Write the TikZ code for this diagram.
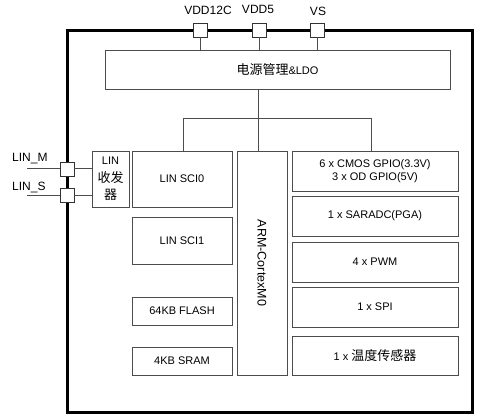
\documentclass[tikz,border=0pt]{standalone}
\usepackage{fontspec}
\setmainfont{Liberation Sans}
\newfontfamily\cjk{Noto Sans CJK SC}
\begin{document}
\begin{tikzpicture}[x=1pt,y=-1pt,
  box/.style={draw=black!70,line width=0.8pt,fill=white,rectangle,inner sep=0pt,align=center,
    font=\fontsize{11}{13}\selectfont},
  pin/.style={draw=black!80,line width=0.8pt,fill=white,rectangle,inner sep=0pt,minimum width=14pt,minimum height=14pt},
  lbl/.style={inner sep=0pt,font=\fontsize{12}{14}\selectfont},
  wire/.style={draw=black!70,line width=0.8pt}]
\useasboundingbox (0,0) rectangle (480,420);
% outer chip
\node[draw=black,line width=3pt,rectangle,minimum width=405pt,minimum height=381pt,inner sep=0pt] (chip) at (269.5,221.5) {};
% top pins
\node[pin] (p1) at (200,30) {};
\node[pin] (p2) at (259,30) {};
\node[pin] (p3) at (317,30) {};
\node[lbl] (l1) at (208,10) {VDD12C};
\node[lbl] (l2) at (258,9) {VDD5};
\node[lbl] (l3) at (318,11) {VS};
% power
\node[box,minimum width=345pt,minimum height=39pt] (pwr) at (277.5,69.5) {{\fontsize{13}{15}\cjk 电源管理}\&LDO};
\draw[wire] (p1.south) -- (p1.south |- pwr.north);
\draw[wire] (p2.south) -- (p2.south |- pwr.north);
\draw[wire] (p3.south) -- (p3.south |- pwr.north);
% blocks
\node[box,minimum width=37pt,minimum height=56pt,font=\fontsize{11}{17.5}\selectfont] (trx) at (110.5,179) {LIN\\{\fontsize{13}{17.5}\cjk 收发}\\{\fontsize{13}{17.5}\cjk 器}};
\node[box,minimum width=100pt,minimum height=56pt] (sci0) at (182,179) {LIN SCI0};
\node[box,minimum width=100pt,minimum height=47pt] (sci1) at (182,240.5) {LIN SCI1};
\node[box,minimum width=100pt,minimum height=28pt] (flash) at (182,311) {64KB FLASH};
\node[box,minimum width=100pt,minimum height=28pt] (sram) at (182,361) {4KB SRAM};
\node[box,minimum width=50pt,minimum height=224pt] (arm) at (262,263) {};
\node[lbl,rotate=-90,font=\fontsize{12.5}{14}\selectfont] (armt) at (arm.center) {ARM-CortexM0};
\node[box,minimum width=166pt,minimum height=40pt] (gpio) at (375,171) {6 x CMOS GPIO(3.3V)\\3 x OD GPIO(5V)};
\node[box,minimum width=166pt,minimum height=40pt] (adc) at (375,216) {1 x SARADC(PGA)};
\node[box,minimum width=166pt,minimum height=40pt] (pwm) at (375,262) {4 x PWM};
\node[box,minimum width=166pt,minimum height=40pt] (spi) at (375,307) {1 x SPI};
\node[box,minimum width=166pt,minimum height=39pt] (temp) at (375,355.5) {1 x {\fontsize{13}{15}\cjk 温度传感器}};
% bus
\coordinate (j1) at (183,118);
\coordinate (j2) at (258,118);
\coordinate (j3) at (371,118);
\draw[wire] (j2 |- pwr.south) -- (j2);
\draw[wire] (j1) -- (j3);
\draw[wire] (j1) -- (j1 |- sci0.north);
\draw[wire] (j2) -- (j2 |- arm.north);
\draw[wire] (j3) -- (j3 |- gpio.north);
% LIN pins
\coordinate (em) at (27,168);
\coordinate (es) at (27,195);
\draw[wire] (em) -- (60,168);
\draw[wire] (es) -- (60,195);
\node[pin] (pm) at (67,169) {};
\node[pin] (ps) at (67,195.5) {};
\draw[wire] (pm.east |- em) -- (trx.west |- em);
\draw[wire] (ps.east |- es) -- (trx.west |- es);
\node[lbl,anchor=west] (lm) at (12,159) {LIN\_M};
\node[lbl,anchor=west] (ls) at (12,188) {LIN\_S};
\end{tikzpicture}
\end{document}
